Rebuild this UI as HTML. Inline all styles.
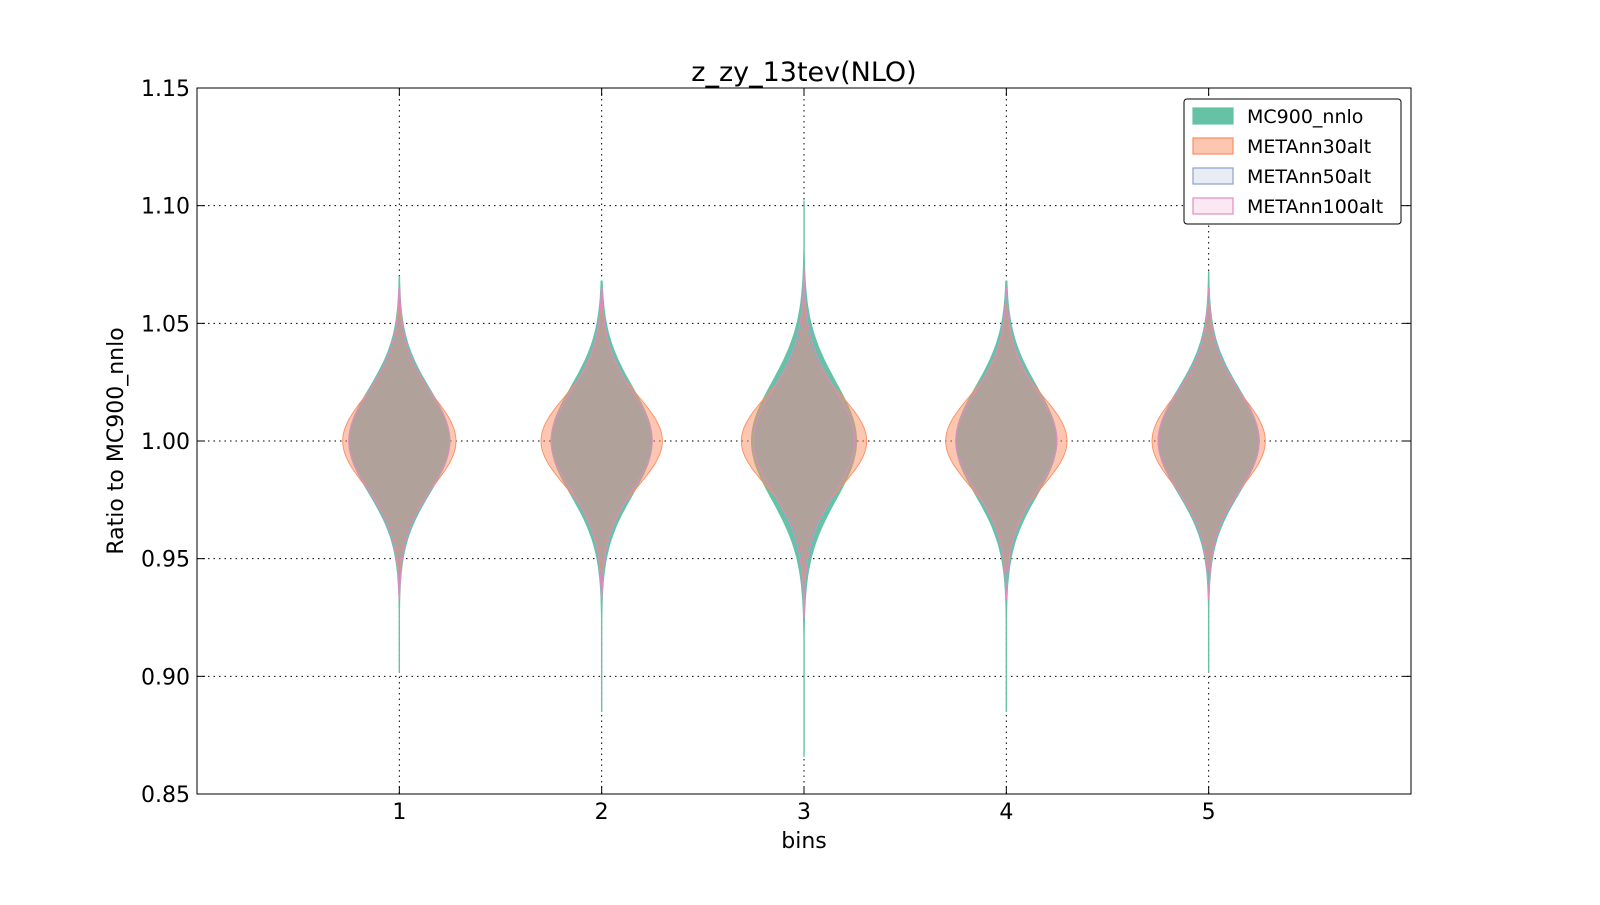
<!DOCTYPE html>
<html><head><meta charset="utf-8"><style>
body{margin:0;background:#fff;}
svg text{font-family:"DejaVu Sans","Liberation Sans",sans-serif;}
</style></head><body>
<svg id="chart" width="1600" height="900" viewBox="0 0 1600 900" xmlns="http://www.w3.org/2000/svg">
<rect width="1600" height="900" fill="#fff"/>
<g id="grid"></g>
<g id="violins"></g>
<rect x="197" y="88" width="1214" height="706" fill="none" stroke="#000" stroke-width="1"/>
<g id="ticks"></g>
<text x="804" y="81" font-size="27" text-anchor="middle">z_zy_13tev(NLO)</text>
<text x="804" y="848" font-size="22" text-anchor="middle">bins</text>
<text transform="translate(123,441) rotate(-90)" font-size="22" text-anchor="middle">Ratio to MC900_nnlo</text>
<g>
<rect x="1184" y="99" width="217" height="125" rx="3" fill="#fff" stroke="#000" stroke-width="1"/>
<g id="legend-items"></g>
</g>
</svg>
<script>
const bins=[1,2,3,4,5];
const yTicks=[0.85,0.90,0.95,1.00,1.05,1.10,1.15];
const seriesNames=["MC900_nnlo","METAnn30alt","METAnn50alt","METAnn100alt"];
const fills=["#66c2a5","#fc8d62","#8da0cb","#e78ac3"];
const alphas=[1,0.5,0.25,0.15];
// per bin: max half-width (bin units), spread, min, max
const mcWidth=[0.25,0.25,0.26,0.25,0.25];
const mcSpread=[0.022,0.023,0.025,0.023,0.022];
const mcMin=[0.902,0.885,0.866,0.885,0.902];
const mcMax=[1.070,1.068,1.102,1.068,1.072];
const a30Width=[0.28,0.30,0.31,0.30,0.28];
const a30Spread=[0.019,0.019,0.019,0.019,0.019];
const a30Min=[0.945,0.945,0.94,0.945,0.945];
const a30Max=[1.058,1.058,1.06,1.058,1.058];
const a50Width=[0.25,0.25,0.25,0.25,0.25];
const a50Spread=[0.021,0.021,0.022,0.021,0.021];
const a50Min=[0.935,0.935,0.928,0.935,0.935];
const a50Max=[1.064,1.064,1.072,1.064,1.064];
const a100Width=[0.25,0.25,0.25,0.25,0.25];
const a100Spread=[0.021,0.021,0.022,0.021,0.021];
const a100Min=[0.933,0.933,0.925,0.933,0.933];
const a100Max=[1.065,1.065,1.073,1.065,1.065];
const W=[mcWidth,a30Width,a50Width,a100Width];
const S=[mcSpread,a30Spread,a50Spread,a100Spread];
const MN=[mcMin,a30Min,a50Min,a100Min];
const MX=[mcMax,a30Max,a50Max,a100Max];

const NS="http://www.w3.org/2000/svg";
const X=b=>197+b*(1214/6);
const Y=v=>88+(1.15-v)/0.30*706;
const pxPerBin=1214/6;
const grid=document.getElementById('grid'),ticks=document.getElementById('ticks'),vg=document.getElementById('violins');
function mk(tag,attrs,parent){const e=document.createElementNS(NS,tag);for(const k in attrs)e.setAttribute(k,attrs[k]);parent.appendChild(e);return e;}
yTicks.forEach(t=>{
  const l=mk('line',{x1:197,x2:1411,y1:Y(t),y2:Y(t),stroke:'#000','stroke-dasharray':'1.5,4','stroke-width':1},grid);
  
  
  const tx=mk('text',{x:190,y:Y(t)+8,'font-size':22,'text-anchor':'end'},ticks);
  tx.textContent=t.toFixed(2);
  
  
  mk('line',{x1:197,x2:205,y1:Y(t),y2:Y(t),stroke:'#000'},ticks);
  mk('line',{x1:1403,x2:1411,y1:Y(t),y2:Y(t),stroke:'#000'},ticks);
});
bins.forEach(b=>{
  const l=mk('line',{x1:X(b),x2:X(b),y1:88,y2:794,stroke:'#000','stroke-dasharray':'1.5,4','stroke-width':1},grid);
  
  
  const tx=mk('text',{x:X(b),y:819,'font-size':22,'text-anchor':'middle'},ticks);
  tx.textContent=String(b);
  
  
  mk('line',{x1:X(b),x2:X(b),y1:786,y2:794,stroke:'#000'},ticks);
  mk('line',{x1:X(b),x2:X(b),y1:88,y2:96,stroke:'#000'},ticks);
});
bins.forEach((b,i)=>{
  for(let s=0;s<4;s++){
    const w=W[s][i],sp=S[s][i],lo=MN[s][i],hi=MX[s][i];
    const n=120,right=[],left=[];
    for(let k=0;k<=n;k++){
      const v=lo+(hi-lo)*k/n;
      const d=(v-1)/sp;
      let hw=w*pxPerBin*Math.exp(-0.5*d*d);
      hw=Math.max(hw,0.25);
      right.push([X(b)+hw,Y(v)]);left.push([X(b)-hw,Y(v)]);
    }
    const pts=right.concat(left.reverse()).map(p=>p[0].toFixed(1)+','+p[1].toFixed(1)).join(' ');
    const p=mk('polygon',{points:pts,fill:fills[s],'fill-opacity':alphas[s],stroke:fills[s],'stroke-width':0.9},vg);
    
    
  }
});
const lg=document.getElementById('legend-items');
seriesNames.forEach((nm,s)=>{
  const y0=108+s*30;
  const r=mk('rect',{x:1193,y:y0,width:40,height:16,fill:fills[s],'fill-opacity':s==0?1:(s==1?0.5:0.2),stroke:fills[s],'stroke-width':1.2},lg);
  
  
  const t=mk('text',{x:1247,y:y0+15,'font-size':19},lg);
  t.textContent=nm;
  
  
});
</script>
</body></html>
